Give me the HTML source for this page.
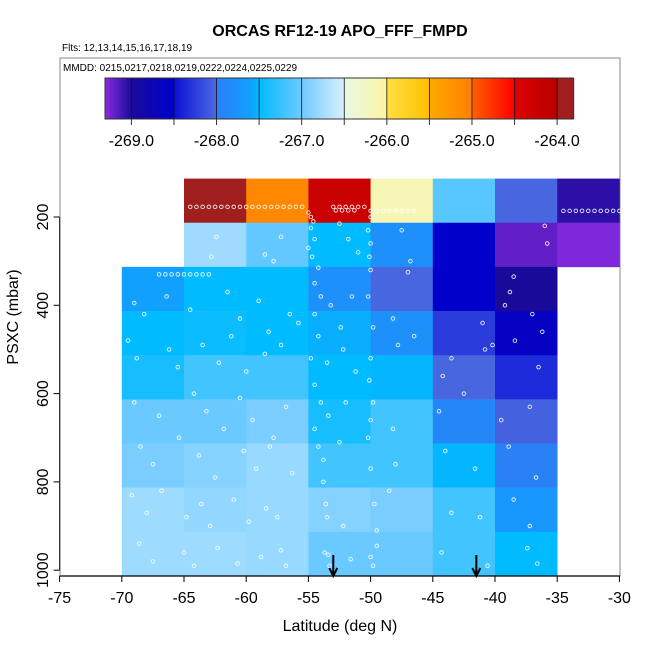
<!DOCTYPE html>
<html><head><meta charset="utf-8"><style>
html,body{margin:0;padding:0;background:#fff;}
svg{display:block;font-family:"Liberation Sans",sans-serif;}
</style></head><body>
<svg id="chart" width="650" height="650" viewBox="0 0 650 650">
<text x="340" y="36" text-anchor="middle" font-size="16" font-weight="bold">ORCAS RF12-19 APO_FFF_FMPD</text>
<text x="62" y="51" font-size="10">Flts: 12,13,14,15,16,17,18,19</text>
<rect x="60" y="58" width="560" height="518" fill="none" stroke="#888" stroke-width="1"/>
<text x="63" y="71" font-size="10">MMDD: 0215,0217,0218,0219,0222,0224,0225,0229</text>
<g id="cells"></g>
<g id="dots"></g>
<g id="cbar"></g>
<g id="axes"></g>
<text x="340" y="631" text-anchor="middle" font-size="16">Latitude (deg N)</text>
<text transform="translate(18,317) rotate(-90)" text-anchor="middle" font-size="16">PSXC (mbar)</text>
</svg>
<script>
const NS="http://www.w3.org/2000/svg";
const latBins=[-70,-65,-60,-55,-50,-45,-40,-35];
const presTops=[113,213,313,413,513,613,713,813,913];
const binValues=[
[null,-263.9,-265.1,-264.2,-266.15,-267.1,-268.02,-269.05],
[null,-266.77,-267.05,-267.5,-267.8,-268.52,-269.2,-269.28],
[-267.6,-267.5,-267.5,-267.8,-268.02,-268.52,-269.0,null],
[-267.5,-267.45,-267.5,-267.55,-267.8,-268.25,-268.6,null],
[-267.4,-267.2,-267.2,-267.5,-267.52,-268.02,-268.35,null],
[-267.02,-267.02,-266.95,-267.4,-267.2,-267.9,-268.05,null],
[-266.95,-266.88,-266.8,-267.2,-267.2,-267.52,-267.98,null],
[-266.78,-266.83,-266.8,-266.9,-266.95,-267.2,-267.7,null],
[-266.78,-266.78,-266.8,-267.02,-267.02,-267.2,-267.5,null]
];
const cbTicks=[-269,-268,-267,-266,-265,-264];
const xTicks=[-75,-70,-65,-60,-55,-50,-45,-40,-35,-30];
const yTicks=[200,400,600,800,1000];
const arrowLats=[-53,-41.5];
const pointLat=[-64.5,-64,-63.5,-63,-62.5,-62,-61.5,-61,-60.5,-60,-59.5,-59,-58.5,-58,-57.5,-57,-56.5,-56,-55.5,
-53,-52.5,-52,-51.5,-51,-50.5,-52.8,-52.3,-51.8,-51.3,
-50,-49.5,-49,-48.5,-48,-47.5,-47,-46.5,
-34.5,-34,-33.5,-33,-32.5,-32,-31.5,-31,-30.5,-30,
-67,-66.5,-66,-65.5,-65,-64.5,-64,-63.5,-63,
-55,-54.8,-54.6,-54.8,-54.5,-55,-54.7,-54.2,-54.5,-54,-54.5,-54.2,-54.8,-54.5,-54,-54.5,-54.2,-53.8,-53.5,-53.7,-53.3,
-50,-50.2,-50,-50.1,-50,-50.2,-49.8,-50,-50.1,-49.8,-50,-50.2,-50,-49.7,-49.5,-50,-49.8,
-62.4,-62.8,-58.5,-57.2,-57.8,-52.5,-51.8,-51,-47.5,-46.8,-47,-38.5,-38.8,-39.2,-36,-35.8,
-69,-68.2,-66.4,-64.5,-61.5,-60.5,-59,-58.2,-56.5,-55.8,-53.2,-52.4,-51.5,-48.2,-46.5,-41,-40.2,-37,-36.2,
-69.5,-68.8,-66.2,-65.5,-63.5,-62.2,-61.2,-60,-58.5,-57.2,-53.5,-52.2,-51.2,-47.8,-44.2,-43.5,-40.8,-38.4,-36.5,
-69,-67,-64.2,-63.2,-61.8,-60.5,-59.5,-57.8,-56.8,-53.4,-52,-48.2,-44.5,-42.5,-39.5,-37.2,
-68.5,-67.5,-65.4,-63.8,-62.5,-60.2,-59.2,-58.1,-56.3,-53.8,-52.5,-48,-44,-41.6,-38.9,-36.7,
-69.2,-68,-66.8,-64.8,-63.6,-62.9,-61,-59.8,-58.4,-57.5,-53.6,-52.2,-48.5,-43.5,-41.2,-38.5,-37.2,
-68.6,-67.5,-65,-64.2,-62.3,-60.7,-58.8,-57.2,-56.8,-53.4,-51.6,-49.5,-44.3,-40.6,-37.4,-36.6];
const pointPres=[177,177,177,177,177,177,177,177,177,177,177,177,177,177,177,177,177,177,177,
177,177,177,177,177,177,185,185,185,185,
186,186,186,186,186,186,186,186,
186,186,186,186,186,186,186,186,186,186,
330,330,330,330,330,330,330,330,330,
190,200,210,225,250,270,290,315,350,380,420,470,520,580,620,680,720,800,880,960,990,
200,230,260,290,320,380,450,520,570,620,660,700,770,850,910,970,990,
245,290,285,245,300,215,250,280,230,300,325,335,370,400,220,260,
395,420,380,410,370,430,390,460,420,440,400,450,380,430,470,440,490,420,460,
480,520,500,540,490,530,470,550,510,490,530,500,550,490,560,520,500,480,540,
620,650,600,640,680,610,660,700,630,650,620,680,640,600,660,630,
720,760,700,740,790,730,770,720,780,750,710,760,730,770,720,790,
830,870,820,880,850,900,840,890,860,880,850,900,820,870,880,840,900,
940,980,960,990,950,985,970,955,990,965,975,945,960,990,950,985];

function xs(lat){return 59.6+(lat+75)*12.44;}
function ys(p){return 217+(p-200)*0.4415;}
const cmapStops=[
[-269.31,'#8a2be2'],[-269.0,'#1a0a9a'],[-269.0,'#1a0a9a'],[-268.5,'#0000cd'],
[-268.5,'#0a10d8'],[-268.0,'#4a6ae0'],[-268.0,'#2a7ff5'],[-267.6,'#12a0ff'],[-267.5,'#00bbff'],
[-267.0,'#6ecaff'],[-266.5,'#d8f0ff'],[-266.5,'#e6f8e6'],[-266.0,'#fff5a0'],
[-266.0,'#ffe040'],[-265.5,'#ffc000'],[-265.5,'#ffaa00'],[-265.0,'#ff8000'],
[-265.0,'#ff6000'],[-264.5,'#ff0000'],[-264.5,'#e00000'],[-264.0,'#b80000'],
[-264.0,'#a01e1e'],[-263.81,'#a01e1e']];
function hex(c){return [parseInt(c.slice(1,3),16),parseInt(c.slice(3,5),16),parseInt(c.slice(5,7),16)];}
function cmap(v){
  for(let i=0;i<cmapStops.length-1;i++){
    const a=cmapStops[i],b=cmapStops[i+1];
    if(v>=a[0]&&v<=b[0]&&b[0]>a[0]){
      const t=(v-a[0])/(b[0]-a[0]),ca=hex(a[1]),cb=hex(b[1]);
      return 'rgb('+ca.map((x,k)=>Math.round(x+(cb[k]-x)*t)).join(',')+')';
    }
  }
  return v<-269?cmapStops[0][1]:'#a01e1e';
}
function mk(tag,attrs,parent){const e=document.createElementNS(NS,tag);for(const k in attrs)e.setAttribute(k,attrs[k]);parent.appendChild(e);return e;}

const gc=document.getElementById('cells');
binValues.forEach((row,r)=>{row.forEach((v,c)=>{
  if(v===null)return;
  const x0=xs(latBins[c]),x1=xs(latBins[c]+5),y0=ys(presTops[r]),y1=ys(presTops[r]+100);
  const e=mk('rect',{x:x0,y:y0,width:x1-x0+0.3,height:y1-y0+0.3,fill:cmap(v)},gc);
  
  
});});

const gd=document.getElementById('dots');
pointLat.forEach((lat,i)=>{
  const e=mk('circle',{cx:xs(lat),cy:ys(pointPres[i]),r:1.8,fill:'none',stroke:'#fff','stroke-width':0.9,opacity:0.9},gd);
  
  
});

const cb=document.getElementById('cbar');
const cbL=105,cbR=573.3,cbT=78,cbB=119,vMin=-269.31,vMax=-263.81;
function cx(v){return cbL+(v-vMin)/(vMax-vMin)*(cbR-cbL);}
for(let px=cbL;px<cbR;px+=1){
  const v=vMin+(px+0.5-cbL)/(cbR-cbL)*(vMax-vMin);
  mk('rect',{x:px,y:cbT,width:1.2,height:cbB-cbT,fill:cmap(v)},cb);
}
for(let v=-269;v<=-264;v+=0.5){
  mk('line',{x1:cx(v),x2:cx(v),y1:cbT,y2:cbB,stroke:'#111','stroke-width':0.8},cb);
  mk('line',{x1:cx(v),x2:cx(v),y1:cbB,y2:cbB+6,stroke:'#333','stroke-width':1},cb);
}
mk('rect',{x:cbL,y:cbT,width:cbR-cbL,height:cbB-cbT,fill:'none',stroke:'#333','stroke-width':1},cb);
cbTicks.forEach(v=>{
  const t=mk('text',{x:cx(v),y:146,'text-anchor':'middle','font-size':16},cb);
  t.textContent=v.toFixed(1);
  
  
});

const ga=document.getElementById('axes');
mk('line',{x1:59.6,x2:620,y1:576,y2:576,stroke:'#000','stroke-width':1.2},ga);
xTicks.forEach(v=>{
  mk('line',{x1:xs(v),x2:xs(v),y1:576,y2:582,stroke:'#000','stroke-width':1},ga);
  const t=mk('text',{x:xs(v),y:603,'text-anchor':'middle','font-size':16},ga);
  t.textContent=v;
  
  
});
mk('line',{x1:59.6,x2:59.6,y1:ys(200),y2:ys(1000),stroke:'#333','stroke-width':1.2},ga);
yTicks.forEach(v=>{
  mk('line',{x1:53.6,x2:59.6,y1:ys(v),y2:ys(v),stroke:'#000','stroke-width':1},ga);
  const t=mk('text',{'text-anchor':'middle','font-size':16,transform:'translate(48,'+ys(v)+') rotate(-90)'},ga);
  t.textContent=v;
  
  
});
arrowLats.forEach(lat=>{
  const x=xs(lat);
  const g=mk('g',{},ga);
  
  
  mk('line',{x1:x,x2:x,y1:555,y2:575,stroke:'#000','stroke-width':2},g);
  mk('polyline',{points:(x-4)+',568 '+x+',576 '+(x+4)+',568',fill:'none',stroke:'#000','stroke-width':2},g);
});
</script>
</body></html>
